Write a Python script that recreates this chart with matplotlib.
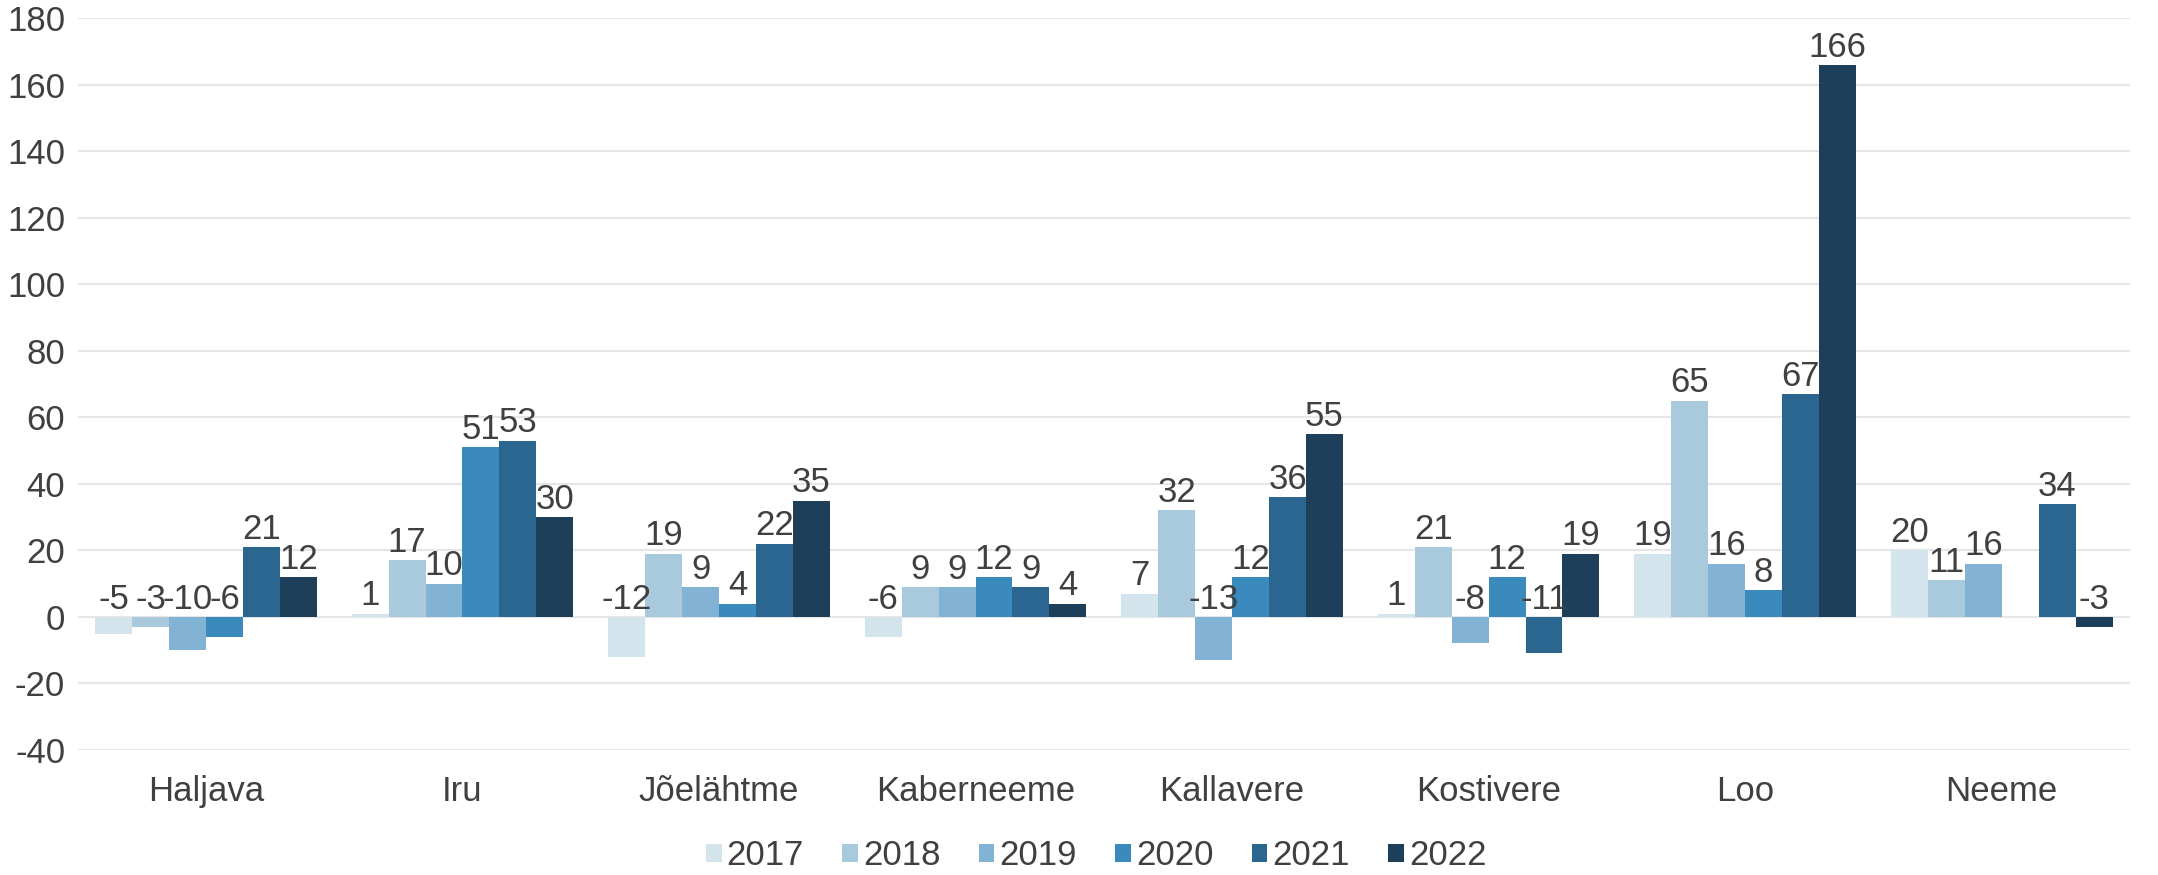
import matplotlib
matplotlib.use("Agg")
import matplotlib.pyplot as plt
import numpy as np

plt.rcParams['font.family'] = ['Liberation Sans', 'DejaVu Sans']
plt.rcParams['axes.unicode_minus'] = False

categories = ["Haljava", "Iru", "Jõelähtme", "Kaberneeme", "Kallavere", "Kostivere", "Loo", "Neeme"]
years = ["2017", "2018", "2019", "2020", "2021", "2022"]
v2017 = [-5, 1, -12, -6, 7, 1, 19, 20]
v2018 = [-3, 17, 19, 9, 32, 21, 65, 11]
v2019 = [-10, 10, 9, 9, -13, -8, 16, 16]
v2020 = [-6, 51, 4, 12, 12, 12, 8, None]
v2021 = [21, 53, 22, 9, 36, -11, 67, 34]
v2022 = [12, 30, 35, 4, 55, 19, 166, -3]
series = [v2017, v2018, v2019, v2020, v2021, v2022]
colors = ["#d4e4ed", "#a9c9dd", "#83b3d4", "#3a8abd", "#2a6690", "#1d3f5a"]

fig = plt.figure(figsize=(21.58, 8.75), dpi=100)
ax = fig.add_axes([0.036, 0.143, 0.951, 0.836])

x = np.arange(len(categories))
bw = 0.144
text_color = "#404040"
fs = 25
for i, (vals, col, yr) in enumerate(zip(series, colors, years)):
    off = (i - 2.5) * bw
    xs = [xx + off for xx, v in zip(x, vals) if v is not None]
    ys = [v for v in vals if v is not None]
    ax.bar(xs, ys, width=bw, color=col, label=yr, zorder=3)
    for xx, v in zip(xs, ys):
        ax.text(xx, max(v, 0) + 2.5, str(v), ha='center', va='baseline',
                fontsize=fs, color=text_color, zorder=4)

ax.set_ylim(-40, 180)
ax.set_yticks(np.arange(-40, 181, 20))
ax.set_xlim(-0.5, len(categories) - 0.5)
ax.set_xticks(x)
ax.set_xticklabels(categories)
ax.grid(axis='y', color='#e6e6e6', linewidth=1.5, zorder=0)
ax.set_axisbelow(True)
for s in ax.spines.values():
    s.set_visible(False)
ax.tick_params(axis='both', length=0, labelsize=fs, labelcolor=text_color)
ax.tick_params(axis='x', pad=18)
ax.tick_params(axis='y', pad=9)

leg = fig.legend(loc='lower center', bbox_to_anchor=(0.508, 0.003), ncol=6, frameon=False,
                 fontsize=fs, handlelength=0.45, handleheight=0.45, handletextpad=0.15,
                 columnspacing=1.1, borderpad=0, borderaxespad=0, labelcolor=text_color)

fig.savefig("out.png", dpi=100)
